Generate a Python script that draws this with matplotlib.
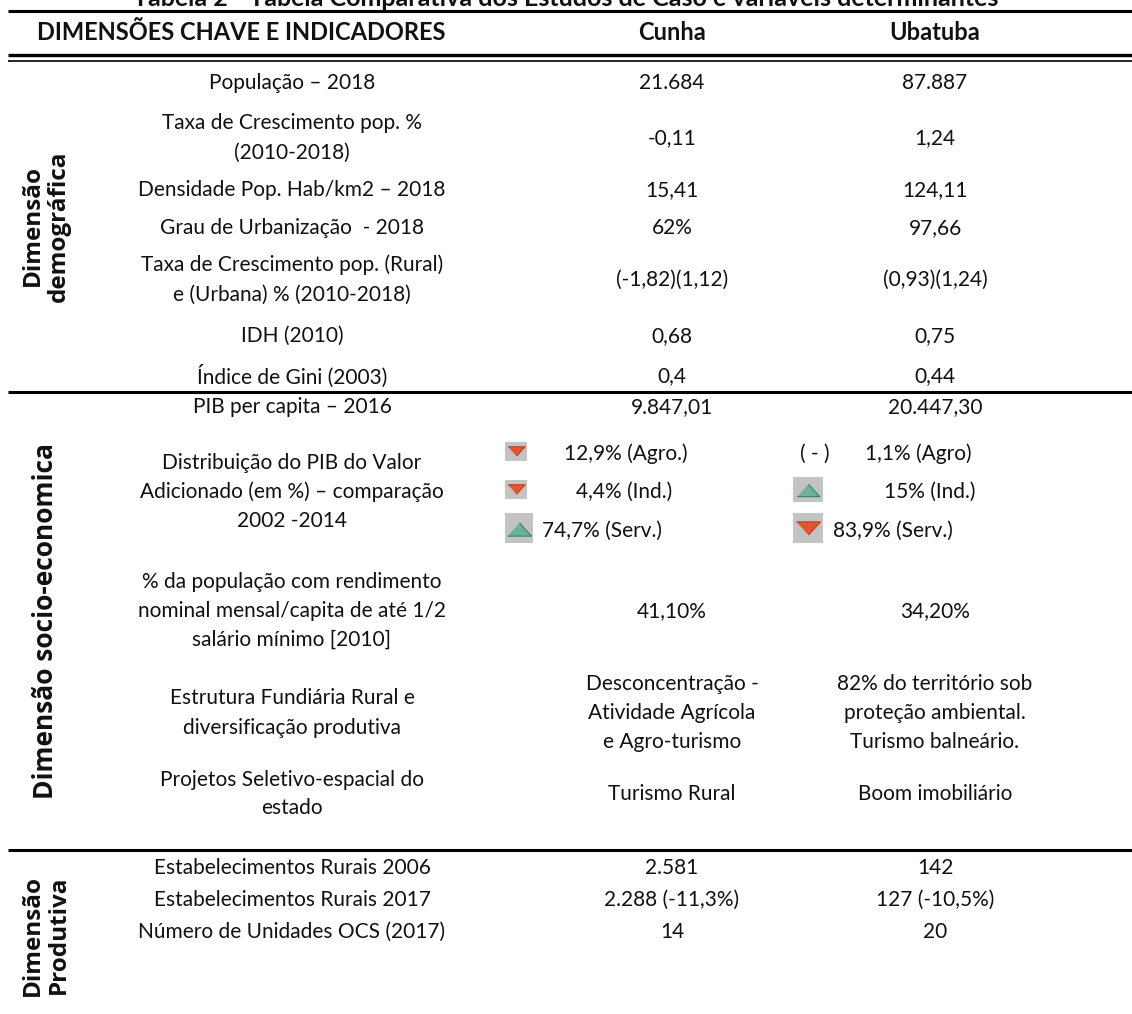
import matplotlib

matplotlib.use("Agg")
import matplotlib.pyplot as plt
from matplotlib.patches import Rectangle

# --- table content ---------------------------------------------------------
titulo = "Tabela 2 - Tabela Comparativa dos Estudos de Caso e variáveis determinantes"
cabecalho = ["DIMENSÕES CHAVE E INDICADORES", "Cunha", "Ubatuba"]

dimensoes = ["Dimensão\ndemográfica", "Dimensão socio-economica", "Dimensão\nProdutiva"]

indicadores = [
    "População – 2018",
    "Taxa de Crescimento pop. %\n(2010-2018)",
    "Densidade Pop. Hab/km2 – 2018",
    "Grau de Urbanização  - 2018",
    "Taxa de Crescimento pop. (Rural)\ne (Urbana) % (2010-2018)",
    "IDH (2010)",
    "Índice de Gini (2003)",
    "PIB per capita – 2016",
    "Distribuição do PIB do Valor\nAdicionado (em %) – comparação\n2002 -2014",
    "% da população com rendimento\nnominal mensal/capita de até 1/2\nsalário mínimo [2010]",
    "Estrutura Fundiária Rural e\ndiversificação produtiva",
    "Projetos Seletivo-espacial do\nestado",
    "Estabelecimentos Rurais 2006",
    "Estabelecimentos Rurais 2017",
    "Número de Unidades OCS (2017)",
]

cunha = ["21.684", "-0,11", "15,41", "62%", "(-1,82)(1,12)", "0,68", "0,4",
         "9.847,01", None, "41,10%",
         "Desconcentração -\nAtividade Agrícola\ne Agro-turismo",
         "Turismo Rural", "2.581", "2.288 (-11,3%)", "14"]
ubatuba = ["87.887", "1,24", "124,11", "97,66", "(0,93)(1,24)", "0,75", "0,44",
           "20.447,30", None, "34,20%",
           "82% do território sob\nproteção ambiental.\nTurismo balneário.",
           "Boom imobiliário", "142", "127 (-10,5%)", "20"]

# PIB distribution by sector and trend (2002 -> 2014)
setores_cunha = ["12,9% (Agro.)", "4,4% (Ind.)", "74,7% (Serv.)"]
tendencia_cunha = ["baixa", "baixa", "alta"]
setores_ubatuba = ["1,1% (Agro)", "15% (Ind.)", "83,9% (Serv.)"]
tendencia_ubatuba = ["estavel", "alta", "baixa"]

# --- layout (pixel coordinates, y downwards) --------------------------------
W, H = 1132, 1014
row_y = [83, 138, 190, 228, 280, 336, 376, 407, 492, 611, 713, 794, 868, 900, 932]
dim_y = [226, 621, 935]
sep_y = [392, 850]
x_ind, x_cun, x_uba = 292, 672, 935

BODY = dict(family=["Lato", "DejaVu Sans"], fontsize=15, color="#111111")
BOLD = dict(family=["Lato", "DejaVu Sans"], fontweight="bold", color="#111111")

fig = plt.figure(figsize=(W / 100, H / 100), dpi=100)
ax = fig.add_axes([0, 0, 1, 1])
ax.set_xlim(0, W)
ax.set_ylim(H, 0)
ax.axis("off")


def cell(x, y, txt, pitch=29, **kw):
    lines = txt.split("\n")
    y0 = y - pitch * (len(lines) - 1) / 2
    for i, ln in enumerate(lines):
        ax.text(x, y0 + i * pitch, ln, ha="center", va="center", **{**BODY, **kw})


# title (top half is cut by the page edge)
ax.text(W / 2, -1, titulo, ha="center", va="center", fontsize=18, **BOLD)
ax.hlines(11, 8, W, color="black", lw=2.2)

ax.text(241, 33, cabecalho[0], ha="center", va="center", fontsize=17, **BOLD)
ax.text(x_cun, 33, cabecalho[1], ha="center", va="center", fontsize=17, **BOLD)
ax.text(x_uba, 33, cabecalho[2], ha="center", va="center", fontsize=17, **BOLD)
ax.hlines(55, 8, W, color="black", lw=2.4)
ax.hlines(61, 8, W, color="black", lw=1.2)
for y in sep_y:
    ax.hlines(y, 8, W, color="black", lw=2.2)

for lbl, y in zip(dimensoes, dim_y):
    ax.text(46, y, lbl, ha="center", va="center", rotation=90,
            fontsize=19 if "\n" not in lbl else 17.5,
            linespacing=1.1, family=["Open Sans", "DejaVu Sans"],
            fontweight="bold", color="#111111")

for i, (ind, y) in enumerate(zip(indicadores, row_y)):
    cell(x_ind, y, ind, pitch=30 if i < 7 else 29)
    if cunha[i] is not None:
        cell(x_cun, y, cunha[i])
        cell(x_uba, y, ubatuba[i])

# PIB distribution rows with trend icons
k = cunha.index(None)
sub_y = [row_y[k] - 38, row_y[k], row_y[k] + 39]
RED, RED_E = "#e2572f", "#b8401f"
GRN, GRN_E = "#6ab39a", "#3d8066"
TRI_DN = [(-1, 0.55), (1, 0.55), (0, -0.55)]
TRI_UP = [(-1, -0.55), (1, -0.55), (0, 0.55)]


def icon(xc, yc, trend, w, h, ms):
    ax.add_patch(Rectangle((xc - w / 2, yc - h / 2), w, h, color="#c3c3c3", lw=0))
    if trend == "baixa":
        ax.scatter([xc], [yc], marker=TRI_DN, s=ms, color=RED, edgecolor=RED_E,
                   lw=0.8, zorder=3)
    else:
        ax.scatter([xc], [yc + 1], marker=TRI_UP, s=ms, color=GRN, edgecolor=GRN_E,
                   lw=0.8, zorder=3)


cun_icon = [(516, 22, 19, 150), (516, 22, 19, 150), (519, 28, 30, 300)]
cun_txt_x = [626, 624, 602]
for y, t, trend, (xi, w, h, ms), xt in zip(sub_y, setores_cunha, tendencia_cunha,
                                           cun_icon, cun_txt_x):
    icon(xi, y - 3, trend, w, h, ms)
    cell(xt, y, t)

uba_icon = [None, (808, 30, 25, 260), (808, 30, 30, 300)]
uba_txt_x = [918, 930, 893]
for y, t, trend, ic, xt in zip(sub_y, setores_ubatuba, tendencia_ubatuba,
                               uba_icon, uba_txt_x):
    if trend == "estavel":
        cell(815, y, "( - )")
    else:
        xi, w, h, ms = ic
        icon(xi, y - 3, trend, w, h, ms)
    cell(xt, y, t)

fig.savefig("out.png", dpi=100)
